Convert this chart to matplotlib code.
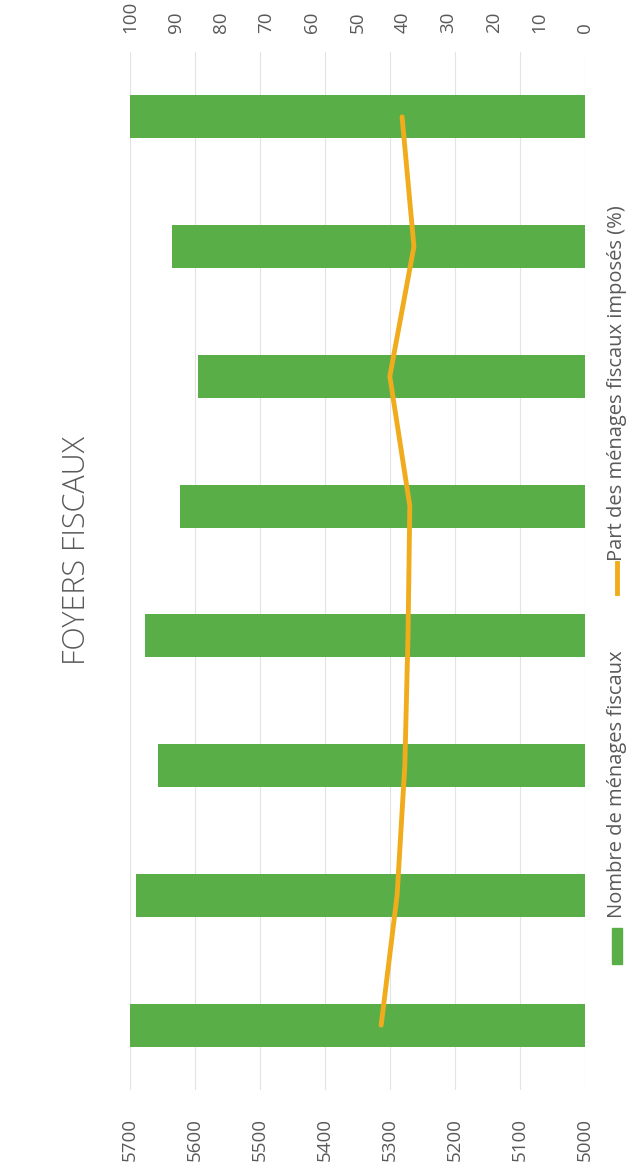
import matplotlib
matplotlib.use("Agg")
import matplotlib.pyplot as plt
from matplotlib.patches import Rectangle
from matplotlib.lines import Line2D

plt.rcParams['font.family'] = ['Open Sans', 'DejaVu Sans']

# Data: number of tax households and share of taxed households (%)
periods = [1, 2, 3, 4, 5, 6, 7, 8]
menages = [5705, 5690, 5657, 5677, 5623, 5595, 5635, 5703]
part_imposes = [44.8, 41.3, 39.6, 38.9, 38.5, 42.9, 37.6, 40.2]
ticks_menages = [5000, 5100, 5200, 5300, 5400, 5500, 5600, 5700]
ticks_part = [0, 10, 20, 30, 40, 50, 60, 70, 80, 90, 100]

title = "FOYERS FISCAUX"
label_menages = "Nombre de ménages fiscaux"
label_part = "Part des ménages fiscaux imposés (%)"

GREEN = "#5aae47"
ORANGE = "#f0ac1c"
GREY = "#595959"

W, H = 644, 1175
fig = plt.figure(figsize=(W / 100, H / 100), dpi=100)
fig.patch.set_facecolor("white")

x0, x1 = 130, 585
y_top, y_bot = 52, 1090
ax = fig.add_axes([x0 / W, (H - y_bot) / H, (x1 - x0) / W, (y_bot - y_top) / H])

pos = list(range(len(periods)))
ax.barh(pos, menages, height=0.33, color=GREEN, zorder=2)
ax.set_xlim(5700, 5000)
ax.set_ylim(-0.5, len(periods) - 0.5)
ax.set_xticks(ticks_menages)
ax.set_xticklabels([str(t) for t in ticks_menages], rotation=90, color=GREY, fontsize=13.5)
ax.set_yticks([])
ax.tick_params(axis="x", length=0, pad=20)
ax.grid(axis="x", color="#e3e3e3", linewidth=0.8, zorder=0)
for s in ax.spines.values():
    s.set_visible(False)

ax2 = ax.twiny()
ax2.plot(part_imposes, pos, color=ORANGE, linewidth=3.5, solid_capstyle="round", zorder=3)
ax2.set_xlim(100, 0)
ax2.set_xticks(ticks_part)
ax2.set_xticklabels([str(t) for t in ticks_part], rotation=90, color=GREY, fontsize=13.5)
ax2.tick_params(axis="x", length=0, pad=14)
for s in ax2.spines.values():
    s.set_visible(False)

# Title, rotated with the chart
fig.text(77 / W, 1 - 551 / H, title, rotation=90, ha="center", va="center",
         fontsize=22, color=GREY, fontweight="light")

# Legend, drawn rotated
fig.patches.append(Rectangle((612 / W, 1 - 964 / H), 10 / W, 36 / H,
                             transform=fig.transFigure, color=GREEN))
fig.text(617 / W, 1 - 918 / H, label_menages, rotation=90, ha="center", va="bottom",
         fontsize=14.5, color=GREY)
fig.lines.append(Line2D([617 / W, 617 / W], [1 - 593 / H, 1 - 563 / H],
                        transform=fig.transFigure, color=ORANGE, linewidth=3.5))
fig.text(617 / W, 1 - 561 / H, label_part, rotation=90, ha="center", va="bottom",
         fontsize=14.5, color=GREY)

fig.savefig("out.png", dpi=100, facecolor="white")
